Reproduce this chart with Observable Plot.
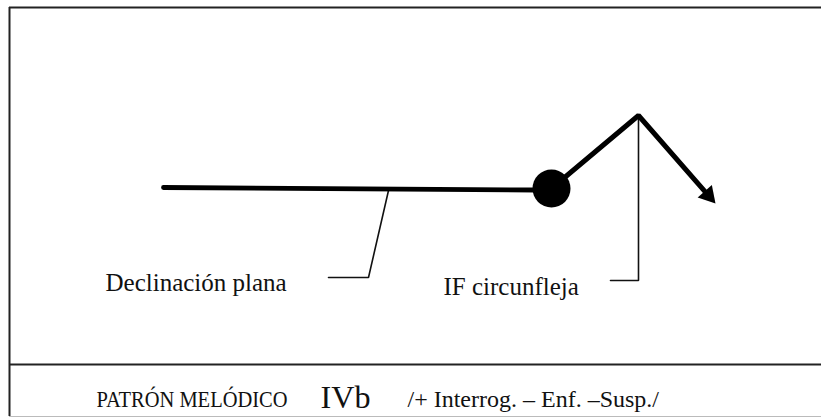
<!DOCTYPE html>
<html>
<head>
<meta charset="utf-8">
<script src="https://cdn.jsdelivr.net/npm/d3@7"></script>
<script src="https://cdn.jsdelivr.net/npm/@observablehq/plot@0.6"></script>
<style>
  html, body { margin: 0; padding: 0; background: #fff; }
  svg { display: block; }
</style>
</head>
<body>
<div id="chart"></div>
<script>
// Diagram space: x = position in utterance, y = relative pitch (screen-like units, 0 at top)
const frameLeft = [9];
const frameTop = [7];
const frameBottom = [416];
const footerDivider = [364];

// Flat declination (body of the contour)
const declX = [163, 535];
const declY = [187, 189.5];

// Nuclear accent (stressed syllable)
const nucleusX = [551];
const nucleusY = [188];

// Circumflex final inflection: rise to peak, fall to arrow tip
const circX = [551, 638, 715];
const circY = [188, 115, 203];

// Leader lines
const leaderDeclX = [388, 368, 328];
const leaderDeclY = [190, 277, 277];
const leaderIFX = [638, 638, 610];
const leaderIFY = [115, 280, 280];

// Labels
const labelText = ["Declinación plana", "IF circunfleja"];
const labelX = [105, 443];
const labelY = [290, 294];

// Footer
const footerText = ["PATRÓN MELÓDICO", "IVb", "/+ Interrog. – Enf. –Susp./"];
const footerX = [96, 320, 407];
const footerEnd = [287, 370, null];
const footerY = [406, 407, 406];
const footerSize = [24, 32, 24];
const footerWeight = ["normal", "bold", "normal"];

const FONT = "'Liberation Serif', 'Times New Roman', Times, serif";

const pts = (xs, ys) => xs.map((x, i) => ({x, y: ys[i]}));
const decl = pts(declX, declY);
const leadD = pts(leaderDeclX, leaderDeclY);
const leadI = pts(leaderIFX, leaderIFY);
const labels = labelText.map((t, i) => ({t, x: labelX[i], y: labelY[i]}));
const footer = footerText.map((t, i) => ({t, x: footerX[i], y: footerY[i], s: footerSize[i], w: footerWeight[i]}));

// arrow head: oriented along the last segment, tip at the last point
const n = circX.length;
const dx = circX[n-1] - circX[n-2], dy = circY[n-1] - circY[n-2];
const len = Math.hypot(dx, dy);
const ux = dx / len, uy = dy / len;
const ang = Math.atan2(dy, dx) * 180 / Math.PI + 90;
const headR = 7;
const headBack = 2 * Math.sqrt(Math.PI * headR * headR / (Math.sqrt(3) * 3));
const headCenter = [{x: circX[n-1] - ux * headBack, y: circY[n-1] - uy * headBack}];
const circ = pts(circX.slice(0, n - 1), circY.slice(0, n - 1)).concat(headCenter);

const xs = d3.scaleLinear().domain([0, 821]).range([0, 821]);

const chart = Plot.plot({
  width: 821,
  height: 417,
  margin: 0,
  x: {domain: [0, 821], range: [0, 821], axis: null},
  y: {domain: [0, 417], range: [0, 417], axis: null},
  style: {fontFamily: FONT, color: "#000", background: "#fff"},
  marks: [
    // frame
    Plot.ruleX(frameLeft, {x: d => d, y1: frameTop[0], y2: frameBottom[0], stroke: "#222", strokeWidth: 2}),
    Plot.ruleY(frameTop, {y: d => d, x1: frameLeft[0], x2: 821, stroke: "#222", strokeWidth: 2}),
    Plot.ruleY(footerDivider, {y: d => d, x1: frameLeft[0], x2: 821, stroke: "#222", strokeWidth: 2}),
    Plot.ruleY(frameBottom, {y: d => d, x1: frameLeft[0], x2: 821, stroke: "#bbb", strokeWidth: 1}),
    // leaders
    Plot.line(leadD, {x: "x", y: "y", stroke: "#111", strokeWidth: 1.6, strokeLinejoin: "miter"}),
    Plot.line(leadI, {x: "x", y: "y", stroke: "#111", strokeWidth: 1.6, strokeLinejoin: "miter"}),
    // contour
    Plot.line(decl, {x: "x", y: "y", stroke: "#000", strokeWidth: 4.8}),
    Plot.line(circ, {x: "x", y: "y", stroke: "#000", strokeWidth: 5, strokeLinejoin: "miter"}),
    Plot.dot(headCenter, {x: "x", y: "y", symbol: "triangle", r: headR, fill: "#000", rotate: ang}),
    Plot.dot(pts(nucleusX, nucleusY), {x: "x", y: "y", r: 19, fill: "#000"}),
    // labels
    Plot.text(labels, {x: "x", y: "y", text: "t", textAnchor: "start", lineAnchor: "bottom", fontSize: 25, fontFamily: FONT, fill: "#111"}),
    Plot.text(footer, {x: "x", y: "y", text: "t", textAnchor: "start", lineAnchor: "bottom", fontSize: d => d.s, fontWeight: d => d.w, fontFamily: FONT, fill: "#111"})
  ]
});
// condense footer pieces that were set narrower in the original
chart.querySelectorAll("text").forEach(t => {
  const i = footerText.indexOf(t.textContent);
  if (i >= 0 && footerEnd[i] != null) {
    t.setAttribute("textLength", xs(footerEnd[i]) - xs(footerX[i]));
    t.setAttribute("lengthAdjust", "spacingAndGlyphs");
  }
});
document.getElementById("chart").append(chart);
</script>
</body>
</html>
